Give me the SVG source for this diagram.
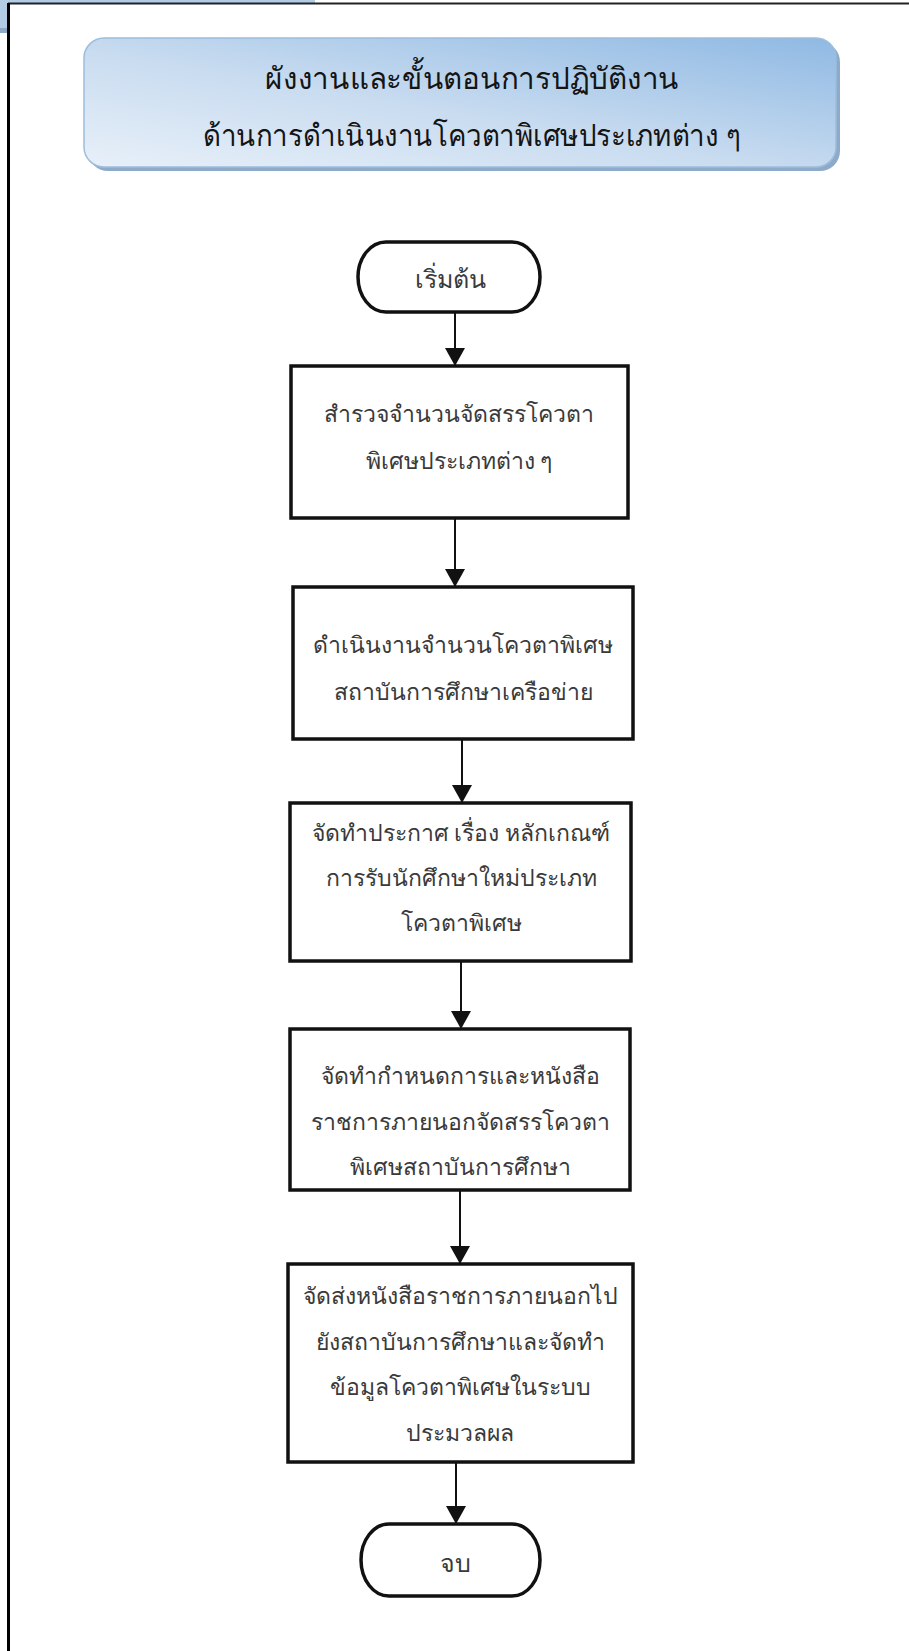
<svg xmlns="http://www.w3.org/2000/svg" width="909" height="1651" viewBox="0 0 909 1651">
  <style>
    .node { fill: #ffffff; stroke: #111111; stroke-width: 3.5; }
    .label { font-family: "Noto Sans", "DejaVu Sans", sans-serif; font-size: 23px; font-weight: 300; fill: #3a3a3a; text-anchor: middle; dominant-baseline: central; }
    .term { font-size: 25px; }
    .title { font-family: "Noto Sans", "DejaVu Sans", sans-serif; font-size: 30px; fill: #141414; text-anchor: middle; dominant-baseline: central; }
    .wire { stroke: #111111; stroke-width: 2; fill: none; marker-end: url(#arrow); }
  </style>
  <defs>
    <linearGradient id="titleFill" x1="1" y1="0" x2="0" y2="1">
      <stop offset="0" stop-color="#8fb9e3"/>
      <stop offset="0.55" stop-color="#c9dcf0"/>
      <stop offset="1" stop-color="#e8f0f9"/>
    </linearGradient>
    <marker id="arrow" viewBox="0 0 18 20" refX="18" refY="10" markerWidth="18" markerHeight="20" markerUnits="userSpaceOnUse" orient="auto">
      <path d="M0,0 L18,10 L0,20 Z" fill="#111111"/>
    </marker>
  </defs>

  <!-- page background and frame -->
  <rect x="0" y="0" width="909" height="1651" fill="#ffffff"/>
  <rect x="0" y="0" width="315" height="33" fill="#b3cce6"/>
  <rect x="0" y="28" width="9" height="5" fill="#8ea9c6"/>
  <rect x="9" y="4" width="900" height="1647" fill="#ffffff"/>
  <line x1="8" y1="3.5" x2="909" y2="3.5" stroke="#222222" stroke-width="2"/>
  <line x1="8.5" y1="3" x2="8.5" y2="1651" stroke="#000000" stroke-width="3"/>

  <!-- title banner -->
  <g id="title">
    <rect x="88" y="42" width="752" height="129" rx="20" fill="#8eaacb"/>
    <rect x="84" y="38" width="752" height="129" rx="20" fill="url(#titleFill)" stroke="#9dbddc" stroke-width="1.5"/>
    <text class="title" x="472" y="77" textLength="414" lengthAdjust="spacingAndGlyphs">ผังงานและขั้นตอนการปฏิบัติงาน</text>
    <text class="title" x="472" y="134" textLength="538" lengthAdjust="spacingAndGlyphs">ด้านการดำเนินงานโควตาพิเศษประเภทต่าง ๆ</text>
  </g>

  <!-- connectors -->
  <g id="connectors">
    <line class="wire" x1="455" y1="312" x2="455" y2="366"/>
    <line class="wire" x1="455" y1="518" x2="455" y2="587"/>
    <line class="wire" x1="462" y1="739" x2="462" y2="803"/>
    <line class="wire" x1="461" y1="961" x2="461" y2="1029"/>
    <line class="wire" x1="460" y1="1190" x2="460" y2="1264"/>
    <line class="wire" x1="456" y1="1462" x2="456" y2="1524"/>
  </g>

  <g id="start">
    <rect class="node" x="358" y="242" width="182" height="70" rx="28" ry="35"/>
    <text class="label term" x="450" y="278">เริ่มต้น</text>
  </g>

  <g id="step1">
    <rect class="node" x="291" y="366" width="337" height="152"/>
    <text class="label" x="459" y="413">สำรวจจำนวนจัดสรรโควตา</text>
    <text class="label" x="459" y="460">พิเศษประเภทต่าง ๆ</text>
  </g>

  <g id="step2">
    <rect class="node" x="293" y="587" width="340" height="152"/>
    <text class="label" x="463" y="644">ดำเนินงานจำนวนโควตาพิเศษ</text>
    <text class="label" x="463" y="691">สถาบันการศึกษาเครือข่าย</text>
  </g>

  <g id="step3">
    <rect class="node" x="290" y="803" width="341" height="158"/>
    <text class="label" x="461" y="832">จัดทำประกาศ เรื่อง หลักเกณฑ์</text>
    <text class="label" x="461" y="877">การรับนักศึกษาใหม่ประเภท</text>
    <text class="label" x="461" y="922">โควตาพิเศษ</text>
  </g>

  <g id="step4">
    <rect class="node" x="290" y="1029" width="340" height="161"/>
    <text class="label" x="460" y="1075">จัดทำกำหนดการและหนังสือ</text>
    <text class="label" x="460" y="1121">ราชการภายนอกจัดสรรโควตา</text>
    <text class="label" x="460" y="1166">พิเศษสถาบันการศึกษา</text>
  </g>

  <g id="step5">
    <rect class="node" x="288" y="1264" width="345" height="198"/>
    <text class="label" x="460" y="1295">จัดส่งหนังสือราชการภายนอกไป</text>
    <text class="label" x="460" y="1341">ยังสถาบันการศึกษาและจัดทำ</text>
    <text class="label" x="460" y="1386">ข้อมูลโควตาพิเศษในระบบ</text>
    <text class="label" x="460" y="1432">ประมวลผล</text>
  </g>

  <g id="end">
    <rect class="node" x="361" y="1524" width="179" height="72" rx="28" ry="36"/>
    <text class="label term" x="455" y="1562">จบ</text>
  </g>
</svg>
